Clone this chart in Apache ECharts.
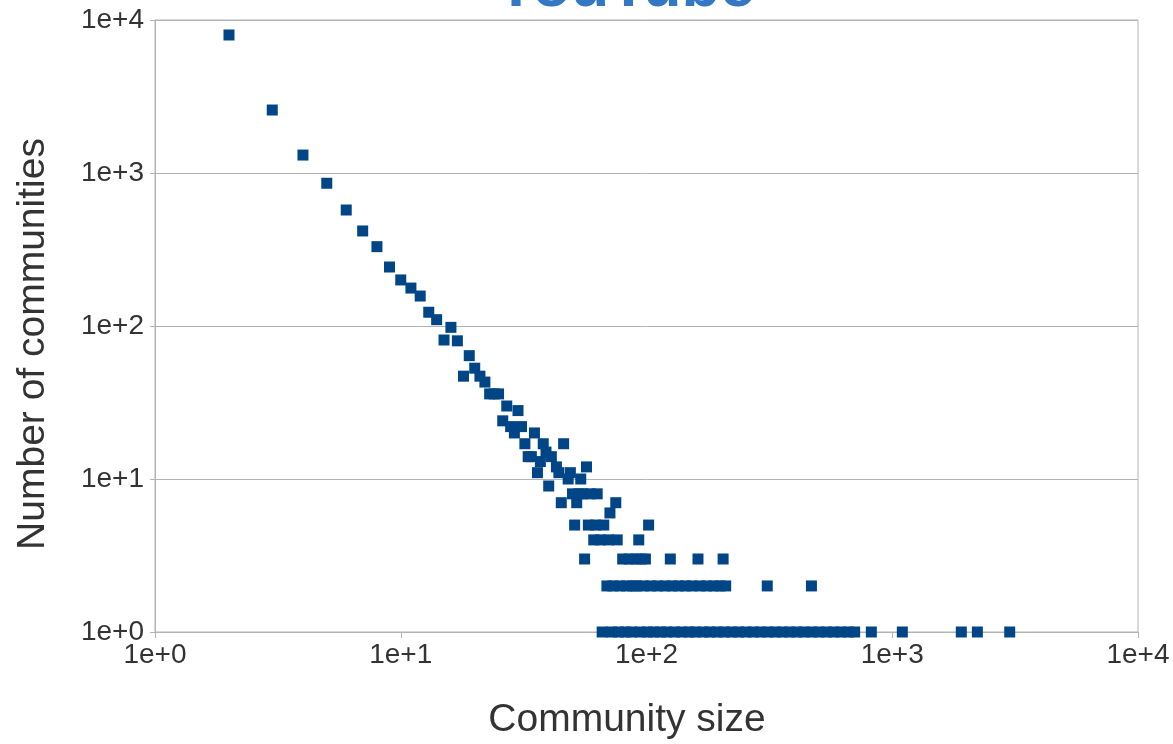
<!DOCTYPE html>
<html>
<head>
<meta charset="utf-8">
<title>YouTube community size distribution</title>
<script src="https://cdn.jsdelivr.net/npm/echarts@6/dist/echarts.min.js"></script>
<style>
  html, body { margin: 0; padding: 0; background: #ffffff; }
  #chart { width: 1173px; height: 744px; }
</style>
</head>
<body>
<div id="chart"></div>
<script>
// Community size (number of members) and how many communities have that size
const communitySize = [
  2, 3, 4, 5, 6, 7, 8, 9, 10, 11, 12, 13, 14, 15, 16, 17, 18, 19, 20,
  21, 22, 23, 24, 25, 26, 27, 28, 29, 30, 31, 32, 33, 34, 35, 36, 37, 38, 39, 40,
  41, 43, 44, 45, 46, 48, 49, 50, 51, 52, 53, 54, 55, 56, 57, 58, 59, 61, 62, 63,
  65, 66, 67, 69, 70, 71, 72, 73, 75, 76, 77, 78, 80, 82, 83, 85, 87, 88, 90, 91,
  93, 94, 95, 97, 99, 101, 102, 104, 107, 111, 114, 119, 121, 125, 127, 130, 135,
  139, 144, 149, 153, 158, 162, 165, 170, 176, 181, 188, 194, 199, 205, 207, 210,
  222, 237, 254, 272, 291, 310, 312, 334, 357, 382, 409, 438, 469, 471, 504, 540,
  578, 619, 663, 703, 822, 1099, 1910, 2220, 3006
];
const communityCount = [
  7980, 2580, 1310, 857, 573, 418, 330, 243, 200, 177, 157, 123, 110, 81, 98, 80, 47, 64, 53,
  47, 43, 36, 36, 36, 24, 30, 22, 20, 28, 22, 17, 14, 14, 20, 11, 13, 17, 15, 9,
  14, 12, 11, 7, 17, 10, 11, 8, 5, 7, 8, 10, 8, 3, 12, 5, 8, 4, 5, 8,
  4, 1, 5, 2, 4, 6, 1, 2, 7, 4, 1, 2, 3, 1, 2, 3, 1, 2, 3, 2,
  4, 1, 3, 2, 3, 1, 5, 2, 1, 2, 1, 2, 1, 3, 2, 1, 2,
  1, 2, 1, 2, 1, 3, 2, 1, 2, 1, 2, 1, 2, 3, 1, 2,
  1, 1, 1, 1, 1, 2, 1, 1, 1, 1, 1, 1, 2, 1, 1, 1,
  1, 1, 1, 1, 1, 1, 1, 1, 1
];

const chartTitle = 'YouTube';
const xAxisTitle = 'Community size';
const yAxisTitle = 'Number of communities';

const FONT = '"Liberation Sans", Arial, sans-serif';
const TICK_FONT = '"Liberation Sans Narrow", "Liberation Sans", Arial, sans-serif';
const TEXT = '#333333';
const RULE = '#b3b3b3';

const points = communitySize.map((s, i) => [s, communityCount[i]]);
const expLabel = v => '1e+' + Math.round(Math.log10(v));

const chart = echarts.init(document.getElementById('chart'), null, { renderer: 'canvas' });

chart.setOption({
  animation: false,
  backgroundColor: '#ffffff',
  grid: {
    left: 155, right: 35, top: 20, bottom: 112,
    show: true, borderColor: RULE, borderWidth: 1, backgroundColor: 'transparent'
  },
  xAxis: {
    type: 'log', logBase: 10, min: 1, max: 10000,
    axisLine: { show: true, lineStyle: { color: RULE, width: 1 } },
    axisTick: { show: true, inside: false, length: 6, lineStyle: { color: RULE } },
    axisLabel: { formatter: expLabel, color: TEXT, fontSize: 28, fontFamily: TICK_FONT, margin: 9 },
    splitLine: { show: false },
    minorTick: { show: false }
  },
  yAxis: {
    type: 'log', logBase: 10, min: 1, max: 10000,
    axisLine: { show: true, lineStyle: { color: RULE, width: 1 } },
    axisTick: { show: true, inside: false, length: 5, lineStyle: { color: RULE } },
    axisLabel: { formatter: expLabel, color: TEXT, fontSize: 28, fontFamily: TICK_FONT, margin: 11 },
    splitLine: { show: true, lineStyle: { color: RULE, width: 1 } },
    minorTick: { show: false }
  },
  series: [{
    type: 'scatter',
    data: points,
    symbol: 'rect',
    symbolSize: 11,
    itemStyle: { color: '#004586', opacity: 1 },
    emphasis: { disabled: true }
  }],
  graphic: [
    {
      type: 'text', x: 625, y: -11,
      style: {
        text: chartTitle, fill: '#3478c3',
        font: 'bold 63px ' + FONT,
        textAlign: 'center', textVerticalAlign: 'middle'
      }
    },
    {
      type: 'text', x: 627, y: 720,
      style: {
        text: xAxisTitle, fill: TEXT,
        font: '39px ' + FONT,
        textAlign: 'center', textVerticalAlign: 'middle'
      }
    },
    {
      type: 'text', x: 33, y: 344, rotation: Math.PI / 2,
      style: {
        text: yAxisTitle, fill: TEXT,
        font: '39px ' + FONT,
        textAlign: 'center', textVerticalAlign: 'middle'
      }
    }
  ]
});
</script>
</body>
</html>
